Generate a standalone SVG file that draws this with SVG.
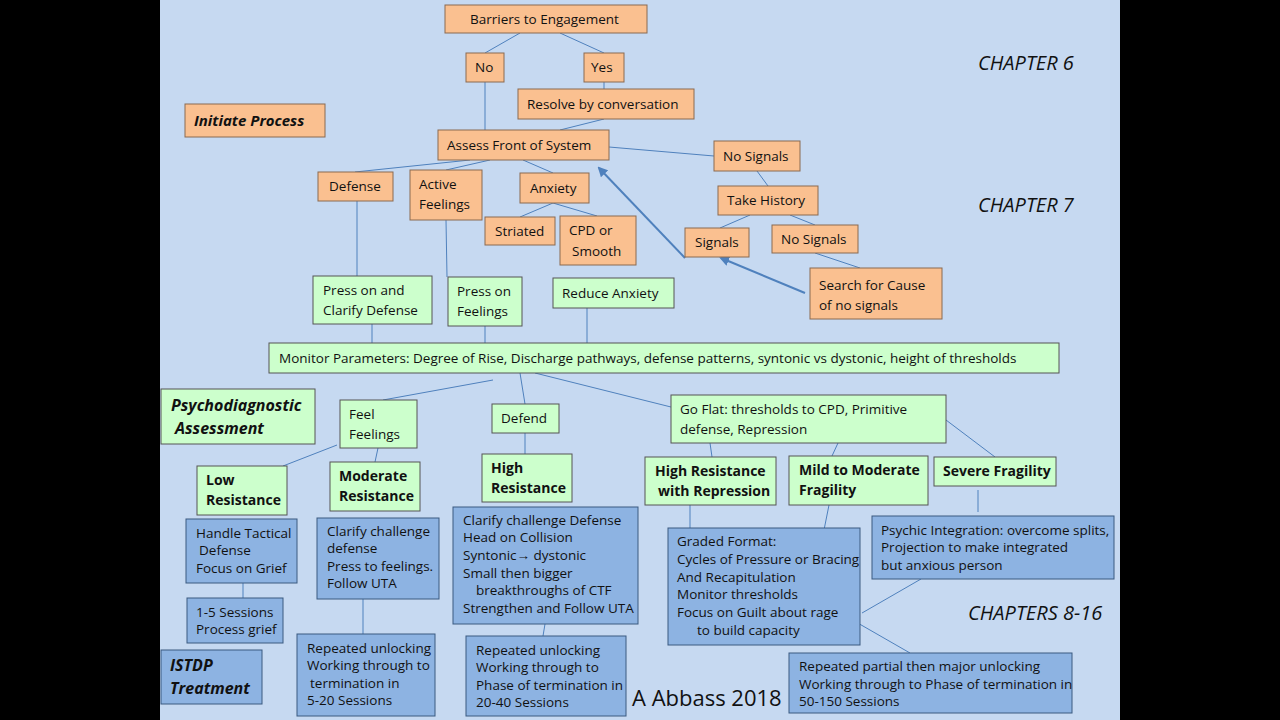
<svg xmlns="http://www.w3.org/2000/svg" width="1280" height="720" viewBox="0 0 1280 720">
<defs>
<marker id="ah" markerWidth="10" markerHeight="10" refX="8" refY="5" orient="auto" markerUnits="userSpaceOnUse"><path d="M0,0 L10,5 L0,10 z" fill="#4f81bd"/></marker>
<style>
text{font-family:"Open Sans","Liberation Sans",sans-serif;font-size:13.5px;fill:#111}
.o{fill:#fac090;stroke:#8a6a50;stroke-width:1}
.g{fill:#ccffcc;stroke:#555;stroke-width:1}
.b{fill:#8db3e2;stroke:#3a5a80;stroke-width:1}
.bi{font-weight:bold;font-style:italic;font-size:16px}
.bd{font-weight:bold;font-size:14px}
.ch{font-style:italic;font-size:20px}
#connectors line{stroke:#4f81bd;stroke-width:1}
#connectors .th{stroke-width:2}
</style>
</defs>
<rect width="1280" height="720" fill="#000"/>
<rect x="160" y="0" width="960" height="720" fill="#c6d9f1"/>
<g id="connectors">
<line x1="520" y1="33" x2="485" y2="53"/><line x1="560" y1="33" x2="604" y2="53"/>
<line x1="485" y1="82" x2="485" y2="130"/><line x1="604" y1="82" x2="604" y2="89"/>
<line x1="604" y1="119" x2="560" y2="130"/>
<line x1="470" y1="160" x2="355" y2="172"/><line x1="490" y1="160" x2="446" y2="170"/>
<line x1="523" y1="160" x2="553" y2="173"/><line x1="609" y1="147" x2="714" y2="156"/>
<line x1="757" y1="171" x2="768" y2="186"/><line x1="750" y1="215" x2="720" y2="228"/>
<line x1="790" y1="215" x2="815" y2="225"/>
<line x1="553" y1="203" x2="520" y2="217"/><line x1="553" y1="203" x2="597" y2="216"/>
<line x1="357" y1="201" x2="357" y2="276"/><line x1="446" y1="220" x2="447" y2="277"/>
<line x1="815" y1="253" x2="860" y2="268"/>
<line class="th" x1="805" y1="293" x2="721" y2="258" marker-end="url(#ah)"/>
<line class="th" x1="685" y1="258" x2="599" y2="168" marker-end="url(#ah)"/>
<line x1="372" y1="324" x2="372" y2="343"/><line x1="485" y1="326" x2="485" y2="343"/>
<line x1="587" y1="308" x2="587" y2="343"/>
<line x1="493" y1="380" x2="383" y2="400"/><line x1="520" y1="373" x2="525" y2="404"/>
<line x1="535" y1="373" x2="671" y2="407"/>
<line x1="337" y1="445" x2="283" y2="466"/><line x1="378" y1="448" x2="375" y2="462"/>
<line x1="525" y1="433" x2="525" y2="454"/>
<line x1="710" y1="443" x2="712" y2="457"/><line x1="838" y1="443" x2="832" y2="456"/>
<line x1="946" y1="420" x2="995" y2="457"/>
<line x1="243" y1="583" x2="243" y2="598"/>
<line x1="363" y1="599" x2="363" y2="634"/><line x1="545" y1="624" x2="543" y2="636"/>
<line x1="690" y1="505" x2="690" y2="540"/><line x1="829" y1="505" x2="822" y2="540"/>
<line x1="978" y1="490" x2="978" y2="512"/>
<line x1="921" y1="579" x2="862" y2="613"/><line x1="856" y1="622" x2="910" y2="653"/>
</g>
<g id="barriers"><rect class="o" x="445" y="5" width="202" height="28"/><text x="470" y="24">Barriers to Engagement</text></g>
<g id="no"><rect class="o" x="466" y="53" width="38" height="29"/><text x="475" y="72">No</text></g>
<g id="yes"><rect class="o" x="584" y="53" width="40" height="29"/><text x="591" y="72">Yes</text></g>
<g id="resolve"><rect class="o" x="518" y="89" width="176" height="30"/><text x="527" y="109">Resolve by conversation</text></g>
<g id="initiate"><rect class="o" x="185" y="104" width="140" height="33"/><text class="bi" x="194" y="126" style="font-size:15px">Initiate Process</text></g>
<g id="assess"><rect class="o" x="438" y="130" width="171" height="30"/><text x="447" y="150">Assess Front of System</text></g>
<g id="nosignals1"><rect class="o" x="714" y="141" width="86" height="30"/><text x="723" y="161">No Signals</text></g>
<g id="defense"><rect class="o" x="318" y="172" width="75" height="29"/><text x="329" y="191">Defense</text></g>
<g id="active"><rect class="o" x="410" y="170" width="72" height="50"/><text x="419" y="189">Active</text><text x="419" y="209">Feelings</text></g>
<g id="anxiety"><rect class="o" x="520" y="173" width="69" height="30"/><text x="530" y="193">Anxiety</text></g>
<g id="history"><rect class="o" x="718" y="186" width="100" height="29"/><text x="727" y="205">Take History</text></g>
<g id="striated"><rect class="o" x="485" y="217" width="70" height="28"/><text x="495" y="236">Striated</text></g>
<g id="cpd"><rect class="o" x="560" y="216" width="76" height="49"/><text x="569" y="235">CPD or</text><text x="572" y="256">Smooth</text></g>
<g id="signals"><rect class="o" x="685" y="228" width="64" height="29"/><text x="695" y="247">Signals</text></g>
<g id="nosignals2"><rect class="o" x="772" y="225" width="86" height="28"/><text x="781" y="244">No Signals</text></g>
<g id="search"><rect class="o" x="810" y="268" width="132" height="51"/><text x="819" y="290">Search for Cause</text><text x="819" y="310">of no signals</text></g>
<g id="pressclarify"><rect class="g" x="313" y="276" width="119" height="48"/><text x="323" y="295">Press on and</text><text x="323" y="315">Clarify Defense</text></g>
<g id="pressfeel"><rect class="g" x="448" y="277" width="74" height="49"/><text x="457" y="296">Press on</text><text x="457" y="316">Feelings</text></g>
<g id="reduce"><rect class="g" x="553" y="278" width="121" height="30"/><text x="562" y="298">Reduce Anxiety</text></g>
<g id="monitor"><rect class="g" x="269" y="343" width="790" height="30"/><text x="279" y="363">Monitor Parameters: Degree of Rise, Discharge pathways, defense patterns, syntonic vs dystonic, height of thresholds</text></g>
<g id="psycho"><rect class="g" x="161" y="389" width="154" height="55"/><text class="bi" x="171" y="411">Psychodiagnostic</text><text class="bi" x="175" y="434">Assessment</text></g>
<g id="feel"><rect class="g" x="340" y="400" width="77" height="48"/><text x="349" y="419">Feel</text><text x="349" y="439">Feelings</text></g>
<g id="defend"><rect class="g" x="492" y="404" width="67" height="29"/><text x="501" y="423">Defend</text></g>
<g id="goflat"><rect class="g" x="671" y="395" width="275" height="48"/><text x="680" y="414">Go Flat: thresholds to CPD, Primitive</text><text x="680" y="434">defense, Repression</text></g>
<g id="low"><rect class="g" x="197" y="466" width="90" height="49"/><text class="bd" x="206" y="485">Low</text><text class="bd" x="206" y="505">Resistance</text></g>
<g id="moderate"><rect class="g" x="330" y="462" width="90" height="49"/><text class="bd" x="339" y="481">Moderate</text><text class="bd" x="339" y="501">Resistance</text></g>
<g id="high"><rect class="g" x="482" y="454" width="90" height="48"/><text class="bd" x="491" y="473">High</text><text class="bd" x="491" y="493">Resistance</text></g>
<g id="hrwr"><rect class="g" x="645" y="457" width="131" height="48"/><text class="bd" x="655" y="476">High Resistance</text><text class="bd" x="658" y="496">with Repression</text></g>
<g id="mild"><rect class="g" x="789" y="456" width="139" height="49"/><text class="bd" x="799" y="475">Mild to Moderate</text><text class="bd" x="799" y="495">Fragility</text></g>
<g id="severe"><rect class="g" x="934" y="457" width="122" height="29"/><text class="bd" x="943" y="476">Severe Fragility</text></g>
<g id="handle"><rect class="b" x="186" y="519" width="111" height="64"/><text x="196" y="538">Handle Tactical</text><text x="199" y="555">Defense</text><text x="196" y="573">Focus on Grief</text></g>
<g id="sessions15"><rect class="b" x="187" y="598" width="96" height="45"/><text x="196" y="617">1-5 Sessions</text><text x="196" y="634">Process grief</text></g>
<g id="istdp"><rect class="b" x="161" y="650" width="101" height="54"/><text class="bi" x="170" y="671">ISTDP</text><text class="bi" x="170" y="694">Treatment</text></g>
<g id="clarifymod"><rect class="b" x="317" y="518" width="122" height="81"/><text x="327" y="536">Clarify challenge</text><text x="327" y="553">defense</text><text x="327" y="571">Press to feelings.</text><text x="327" y="588">Follow UTA</text></g>
<g id="rep1"><rect class="b" x="297" y="634" width="138" height="82"/><text x="307" y="653">Repeated unlocking</text><text x="307" y="670">Working through to</text><text x="310" y="688">termination in</text><text x="307" y="705">5-20 Sessions</text></g>
<g id="clarifyhigh"><rect class="b" x="453" y="507" width="185" height="117"/><text x="463" y="525">Clarify challenge Defense</text><text x="463" y="542">Head on Collision</text><text x="463" y="560">Syntonic→ dystonic</text><text x="463" y="578">Small then bigger</text><text x="476" y="595">breakthroughs of CTF</text><text x="463" y="613">Strengthen and Follow UTA</text></g>
<g id="rep2"><rect class="b" x="466" y="636" width="160" height="80"/><text x="476" y="655">Repeated unlocking</text><text x="476" y="672">Working through to</text><text x="476" y="690">Phase of termination in</text><text x="476" y="707">20-40 Sessions</text></g>
<g id="graded"><rect class="b" x="668" y="528" width="192" height="117"/><text x="677" y="546">Graded Format:</text><text x="677" y="564">Cycles of Pressure or Bracing</text><text x="677" y="582">And Recapitulation</text><text x="677" y="599">Monitor thresholds</text><text x="677" y="617">Focus on Guilt about rage</text><text x="697" y="635">to build capacity</text></g>
<g id="psychic"><rect class="b" x="872" y="516" width="242" height="63"/><text x="881" y="535">Psychic Integration: overcome splits,</text><text x="881" y="552">Projection to make integrated</text><text x="881" y="570">but anxious person</text></g>
<g id="rep3"><rect class="b" x="789" y="653" width="283" height="60"/><text x="799" y="671">Repeated partial then major unlocking</text><text x="799" y="689">Working through to Phase of termination in</text><text x="799" y="706">50-150 Sessions</text></g>
<text class="ch" x="978" y="70">CHAPTER 6</text>
<text class="ch" x="978" y="212">CHAPTER 7</text>
<text class="ch" x="968" y="620">CHAPTERS 8-16</text>
<text x="632" y="706" style="font-size:22px">A Abbass 2018</text>
</svg>
